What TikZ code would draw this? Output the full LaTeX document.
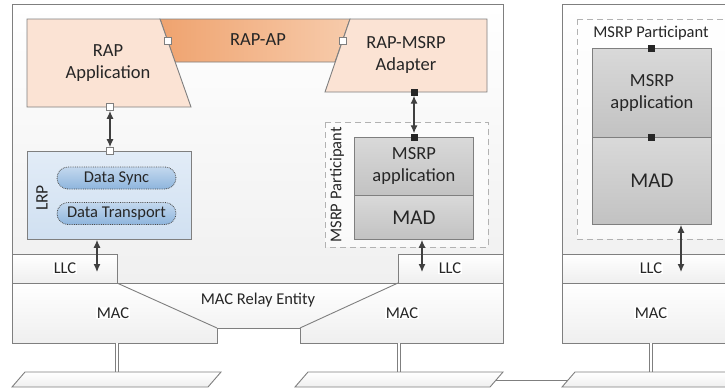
\documentclass[tikz,border=0pt]{standalone}
\usepackage{fontspec}
\setmainfont{Carlito}
\usetikzlibrary{arrows.meta,shapes.misc,positioning}

\definecolor{linegray}{HTML}{7F7F7F}
\definecolor{stationfill}{HTML}{F0F0F0}
\definecolor{layerfill}{HTML}{EFEFEF}
\definecolor{peach}{HTML}{FBE3D4}
\definecolor{rapapL}{HTML}{EFA36F}
\definecolor{rapapR}{HTML}{F7CBAB}
\definecolor{lrpA}{HTML}{E2ECF7}
\definecolor{lrpB}{HTML}{D0E0F1}
\definecolor{pillA}{HTML}{8EB5DD}
\definecolor{pillB}{HTML}{C3D8EE}
\definecolor{boxA}{HTML}{D9D9D9}
\definecolor{boxB}{HTML}{C2C2C2}
\definecolor{txt}{HTML}{262626}

\begin{document}
\begin{tikzpicture}[x=1pt,y=-1pt,>={Latex[length=8pt,width=7pt]},text=txt]
  \tikzset{
    big/.style={font=\fontsize{18.5}{22}\selectfont},
    small/.style={font=\fontsize{16.5}{19}\selectfont},
    station/.style={draw=linegray, line width=0.9pt, top color=white, bottom color=stationfill},
    layer/.style={draw=linegray, line width=0.9pt, top color=white, bottom color=layerfill},
    peachbox/.style={draw=linegray, line width=0.9pt, fill=peach},
    band/.style={draw=linegray, line width=0.9pt, left color=rapapL, right color=rapapR},
    lrpbox/.style={draw=linegray, line width=0.9pt, top color=lrpA, bottom color=lrpB,
      minimum width=164pt, minimum height=88pt, anchor=north west},
    pill/.style={rounded rectangle, draw=black!70, densely dotted, line width=0.8pt,
      top color=pillB, bottom color=pillA, minimum width=119pt, minimum height=22pt, inner sep=0pt, small},
    graybox/.style={draw=linegray, line width=0.9pt, top color=boxA, bottom color=boxB,
      minimum width=119pt, inner sep=0pt, align=center, anchor=north west, big},
    madfont/.style={font=\fontsize{21}{24}\selectfont},
    partbox/.style={draw=gray!60, dash pattern=on 6pt off 4pt, line width=0.9pt, fill=white, fill opacity=0.6},
    sqw/.style={draw=linegray, fill=white, line width=0.8pt, minimum size=7pt, inner sep=0pt},
    sqb/.style={fill=black!85, minimum size=7pt, inner sep=0pt},
    arr/.style={<->, draw=black!75, line width=1.1pt},
    lbl/.style={fill=white, inner sep=0.5pt, small},
    leg/.style={draw=linegray, double=white, double distance=2.6pt, line width=0.9pt},
    bus/.style={draw=linegray, line width=0.9pt, top color=white, bottom color=layerfill}
  }
  \useasboundingbox (0,0) rectangle (725,391);
  \clip (0,0) rectangle (725,391);

  % stations
  \draw[station] (12,4) rectangle (503,283);
  \draw[station] (562,4) rectangle (760,283);

  % LLC / MAC layers
  \draw[layer] (12,254) rectangle (117,283);
  \draw[layer] (398,254) rectangle (503,283);
  \draw[layer] (562,254) rectangle (760,283);
  \draw[layer] (12,283) -- (503,283) -- (503,343) -- (300,343) -- (300,328)
    -- (217,328) -- (217,343) -- (12,343) -- cycle;
  \draw[linegray, line width=0.9pt] (117,283) -- (217,328) (398,283) -- (300,328);
  \draw[layer] (562,283) rectangle (760,343);

  \node[lbl] (llcA) at (65,268) {LLC};
  \node[lbl] (llcB) at (450,268) {LLC};
  \node[lbl] (llcC) at (651,268) {LLC};
  \node[lbl] (macA) at (113,313) {MAC};
  \node[lbl] (macB) at (402,313) {MAC};
  \node[lbl] (macC) at (651,313) {MAC};
  \node[small] (relay) at (258,300) {MAC Relay Entity};

  % legs and buses
  \coordinate (legA1) at (117,343); \coordinate (legA2) at (117,372);
  \coordinate (legB1) at (399,343); \coordinate (legB2) at (399,372);
  \coordinate (legC1) at (651,343); \coordinate (legC2) at (651,372);
  \draw[leg] (legA1) -- (legA2);
  \draw[leg] (legB1) -- (legB2);
  \draw[leg] (legC1) -- (legC2);
  \draw[bus] (12,387) -- (25,372) -- (221,372) -- (208,387) -- cycle;
  \draw[bus] (295,387) -- (308,372) -- (503,372) -- (490,387) -- cycle;
  \draw[bus] (562,387) -- (575,372) -- (760,372) -- (760,387) -- cycle;
  \coordinate (busBr) at (496,380);
  \coordinate (busCl) at (568,380);
  \draw[linegray, line width=0.9pt] (busBr) -- (busCl);

  % RAP part
  \draw[band] (160,19) -- (350,19) -- (335,62) -- (175,62) -- cycle;
  \node[big] (rapap) at (258,40) {RAP-AP};
  \draw[peachbox] (27,19) -- (160,19) -- (191,107) -- (27,107) -- cycle;
  \node[big, align=center] (rapapp) at (108,63) {RAP\\Application};
  \draw[peachbox] (350,19) -- (487,19) -- (487,92) -- (325,92) -- cycle;
  \node[big, align=center] (adapter) at (406,55) {RAP-MSRP\\Adapter};
  \node[sqw] (sqAp1) at (168,41) {};
  \node[sqw] (sqAp2) at (343,41) {};

  % LRP
  \node[lrpbox] (lrp) at (27,151) {};
  \node[font=\fontsize{17.5}{20}\selectfont, rotate=90] (lrplbl) at (42,198) {LRP};
  \node[pill] (dsync) at (116.5,178) {Data Sync};
  \node[pill] (dtrans) at (116.5,213.5) {Data Transport};
  \node[sqw] (sqApp) at (110,107) {};
  \node[sqw] (sqLrp) at (110,151) {};
  \draw[arr] (sqApp) -- (sqLrp);

  % MSRP participant, left station
  \draw[partbox] (325,122) rectangle (488,247);
  \node[small, rotate=90] (partL) at (337,185) {MSRP Participant};
  \node[graybox, minimum height=58pt] (msrpL) at (354,137) {MSRP\\application};
  \node[graybox, minimum height=44pt, madfont] (madL) at (354,195) {MAD};
  \node[sqb] (bkA) at (414,92) {};
  \node[sqb] (bkB) at (414,137) {};
  \draw[arr] (bkA) -- (bkB);

  % MSRP participant, right station
  \draw[partbox] (577,19) rectangle (760,239);
  \node[small] (partR) at (651,33) {MSRP Participant};
  \node[graybox, minimum height=89pt] (msrpR) at (592,48) {MSRP\\application};
  \node[graybox, minimum height=87pt, madfont] (madR) at (592,137) {MAD};
  \node[sqb] (bkC) at (651,48) {};
  \node[sqb] (bkD) at (651,137) {};

  % down to LLC
  \coordinate (inA) at (97,272);
  \coordinate (inB) at (422,272);
  \coordinate (inC) at (681,272);
  \draw[arr] (lrp.south -| inA) -- (inA);
  \draw[arr] (madL.south -| inB) -- (inB);
  \draw[arr] (madR.south -| inC) -- (inC);
\end{tikzpicture}
\end{document}
